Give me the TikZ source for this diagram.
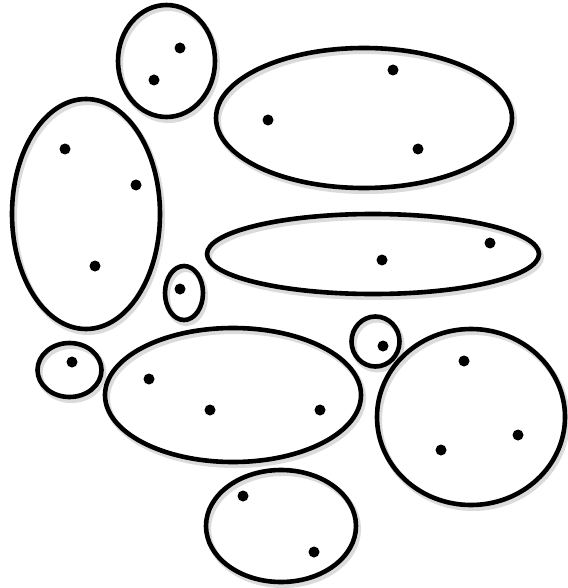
\documentclass[tikz,border=0pt]{standalone}
\usepackage{tikz}
\usepackage{xcolor}
\colorlet{shadegray}{black!14}
\tikzset{
  blobline/.style={line width=4.6pt, black},
  blobshade/.style={line width=6pt, shadegray},
  pointdot/.style={black},
}

\begin{document}
\begin{tikzpicture}[x=1pt,y=-1pt]
\useasboundingbox (0,0) rectangle (567,588);
\fill[white] (0,0) rectangle (567,588);
\draw[blobshade] (168.5,64) ellipse (48.5 and 56);
\draw[blobshade] (366,121) ellipse (148 and 70);
\draw[blobshade] (88,217) ellipse (74 and 115);
\draw[blobshade] (375,257) ellipse (166 and 40);
\draw[blobshade] (186,296) ellipse (19 and 27);
\draw[blobshade] (71.5,373) ellipse (32 and 27);
\draw[blobshade] (235,398) ellipse (128 and 67);
\draw[blobshade] (377.5,344.5) ellipse (24 and 25);
\draw[blobshade] (473,420) ellipse (94 and 88);
\draw[blobshade] (283,529) ellipse (75 and 56);
\draw[blobline] (166.5,61) ellipse (48.5 and 56);
\draw[blobline] (364,118) ellipse (148 and 70);
\draw[blobline] (86,214) ellipse (74 and 115);
\draw[blobline] (373,254) ellipse (166 and 40);
\draw[blobline] (184,293) ellipse (19 and 27);
\draw[blobline] (69.5,370) ellipse (32 and 27);
\draw[blobline] (233,395) ellipse (128 and 67);
\draw[blobline] (375.5,341.5) ellipse (24 and 25);
\draw[blobline] (471,417) ellipse (94 and 88);
\draw[blobline] (281,526) ellipse (75 and 56);
\fill[pointdot] (180,48) circle (5.5);
\fill[pointdot] (154,80) circle (5.5);
\fill[pointdot] (393,70) circle (5.5);
\fill[pointdot] (268,120) circle (5.5);
\fill[pointdot] (418,149) circle (5.5);
\fill[pointdot] (65,149) circle (5.5);
\fill[pointdot] (136,185) circle (5.5);
\fill[pointdot] (95,266) circle (5.5);
\fill[pointdot] (490,243) circle (5.5);
\fill[pointdot] (382,260) circle (5.5);
\fill[pointdot] (180,289) circle (5.5);
\fill[pointdot] (72,362) circle (5.5);
\fill[pointdot] (149,379) circle (5.5);
\fill[pointdot] (210,410) circle (5.5);
\fill[pointdot] (320,410) circle (5.5);
\fill[pointdot] (383,346) circle (5.5);
\fill[pointdot] (464,361) circle (5.5);
\fill[pointdot] (518,435) circle (5.5);
\fill[pointdot] (441,450) circle (5.5);
\fill[pointdot] (243,496) circle (5.5);
\fill[pointdot] (314,552) circle (5.5);
\end{tikzpicture}
\end{document}
